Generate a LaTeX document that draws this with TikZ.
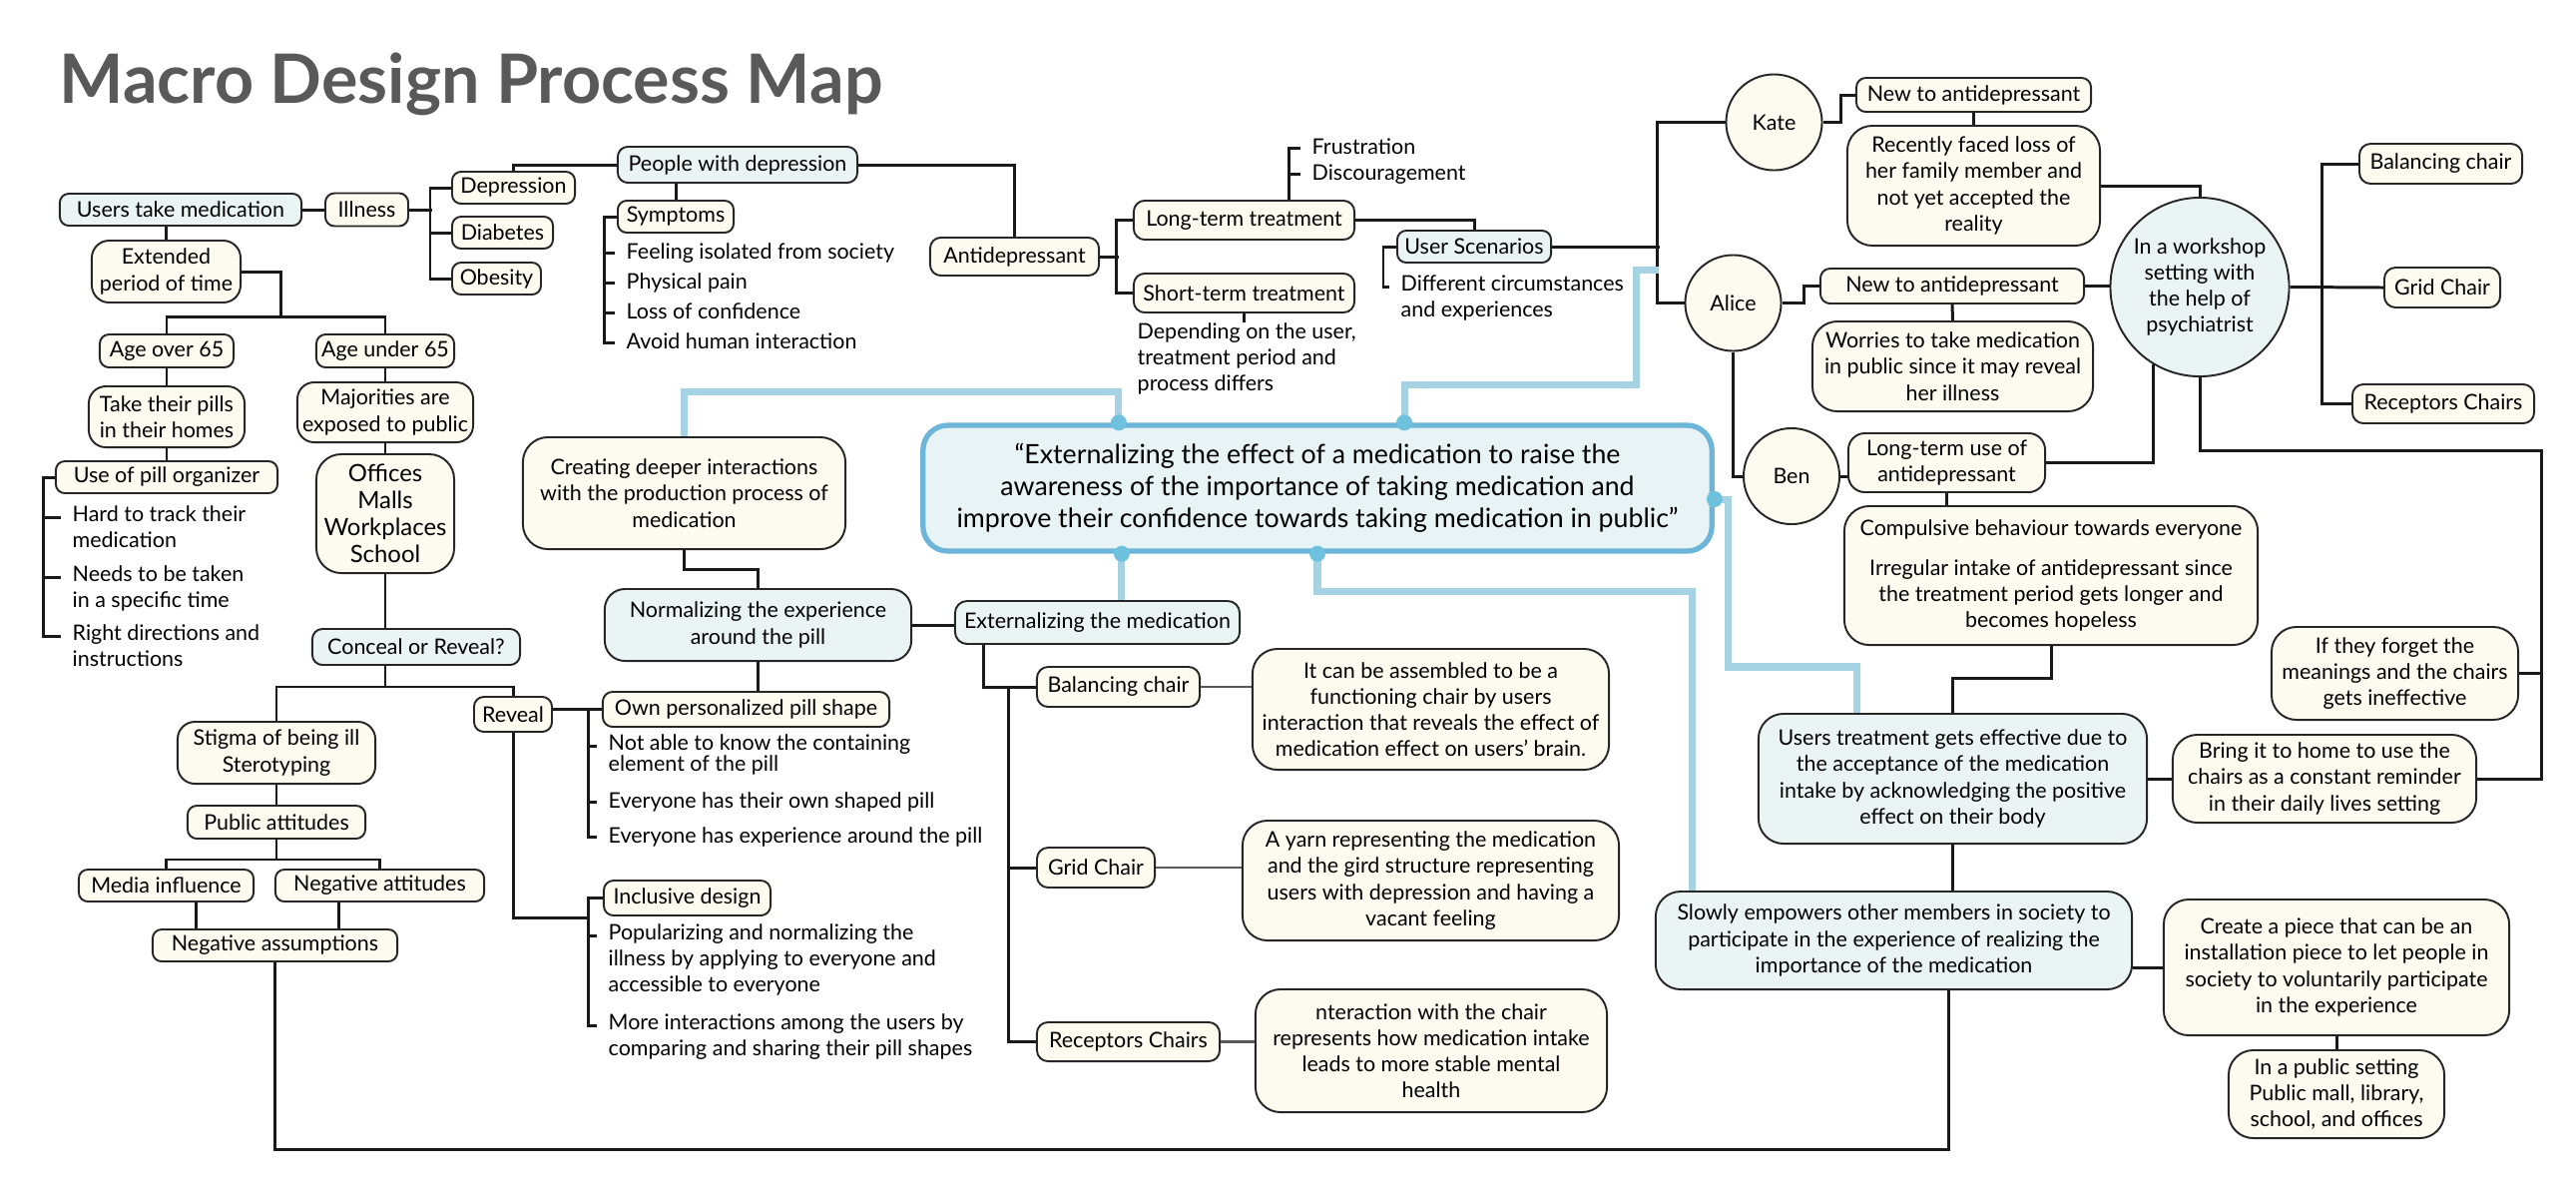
\documentclass[tikz,border=0pt]{standalone}
\usepackage{fontspec}
\setmainfont{Lato}
\definecolor{cream}{HTML}{FDFBEF}
\definecolor{paleblue}{HTML}{EAF4F4}
\definecolor{mainfill}{HTML}{E7F3F5}
\definecolor{edge}{HTML}{262626}
\definecolor{skyline}{HTML}{A5D3E3}
\definecolor{skyedge}{HTML}{6DB5D9}
\definecolor{skydot}{HTML}{6EC2DE}
\definecolor{titlegrey}{HTML}{595959}
\newcommand\mapfont{\fontsize{6.1}{7.45}\selectfont}
\begin{document}
\begin{tikzpicture}[x=0.01cm, y=-0.01cm,
box/.style={draw=edge, fill=cream, line width=0.55pt, inner sep=1pt, align=center, font=\mapfont},
bluebox/.style={box, fill=paleblue},
wh/.style 2 args={minimum width=#1cm, minimum height=#2cm, rounded corners={min(#2*2.8,2.5)*1mm}},
person/.style={circle, draw=edge, fill=cream, line width=0.55pt, minimum size=0.96cm, inner sep=0pt, font=\mapfont},
item/.style={anchor=north west, inner xsep=0.11cm, inner ysep=0pt, yshift=3.5pt, align=left, font=\mapfont, execute at begin node=\strut},
link/.style={draw=black!90, line width=0.85pt},
soft/.style={draw=black!65, line width=0.6pt},
blink/.style={draw=skyline, line width=2pt},
dot/.style={circle, fill=skydot, inner sep=0pt, minimum size=0.16cm}]
\useasboundingbox (0,0) rectangle (2581,1199);

\node[anchor=base west, text=titlegrey, font=\fontsize{19.4}{22}\selectfont\bfseries] (title) at (47,103) {Macro Design Process Map};

% users and illness
\node[bluebox, wh={2.42}{0.32}] (users) at (181,210) {Users take medication};
\node[box, wh={0.83}{0.33}] (illness) at (367.5,210) {Illness};
\node[box, wh={1.23}{0.32}] (depr) at (514.5,188) {Depression};
\node[box, wh={1.01}{0.32}] (diab) at (503.5,233) {Diabetes};
\node[box, wh={0.89}{0.32}] (obes) at (497.5,279) {Obesity};
\node[bluebox, wh={2.40}{0.36}] (people) at (739,165) {People with depression};
\node[box, wh={1.16}{0.32}] (sympt) at (677,217) {Symptoms};
\node[item] (s1) at (616,253) {Feeling isolated from society};
\node[item] (s2) at (616,283) {Physical pain};
\node[item] (s3) at (616,313) {Loss of confidence};
\node[item] (s4) at (616,343) {Avoid human interaction};

\node[box, wh={1.49}{0.62}] (extended) at (166.5,272) {Extended\\period of time};
\node[box, wh={1.34}{0.33}] (ageover) at (167,351.5) {Age over 65};
\node[box, wh={1.38}{0.33}] (ageunder) at (386,351.5) {Age under 65};
\node[box, wh={1.56}{0.61}] (pills) at (167,417.5) {Take their pills\\in their homes};
\node[box, wh={1.76}{0.60}] (majority) at (386,413) {Majorities are\\exposed to public};
\node[box, wh={2.22}{0.32}] (organizer) at (167,478) {Use of pill organizer};
\node[item] (o1) at (61,518) {Hard to track their\\medication};
\node[item] (o2) at (61,578) {Needs to be taken\\in a specific time};
\node[item] (o3) at (61,637) {Right directions and\\instructions};
\node[box, wh={1.38}{1.19}, font=\fontsize{6.8}{7.7}\selectfont] (offices) at (386,514.5) {Offices\\Malls\\Workplaces\\School};
\node[bluebox, wh={2.08}{0.36}] (conceal) at (417,648) {Conceal or Reveal?};
\node[box, wh={1.98}{0.62}] (stigma) at (277,754) {Stigma of being ill\\Sterotyping};
\node[box, wh={0.78}{0.35}] (reveal) at (514,715.5) {Reveal};
\node[box, wh={1.78}{0.33}] (public) at (277,823.5) {Public attitudes};
\node[box, wh={1.75}{0.32}] (media) at (166.5,887) {Media influence};
\node[box, wh={2.09}{0.32}] (negatt) at (380.5,887) {Negative attitudes};
\node[box, wh={2.45}{0.32}] (negass) at (275.5,947) {Negative assumptions};

% pill design
\node[box, wh={3.23}{1.12}] (creating) at (685.5,494) {Creating deeper interactions\\with the production process of\\medication};
\node[bluebox, wh={3.07}{0.72}] (normal) at (759.5,626) {Normalizing the experience\\around the pill};
\node[box, wh={2.87}{0.35}] (own) at (747.5,710.5) {Own personalized pill shape};
\node[item] (w1) at (598,747) {Not able to know the containing\\[-1.3pt]element of the pill};
\node[item] (w2) at (598,803) {Everyone has their own shaped pill};
\node[item] (w3) at (598,838) {Everyone has experience around the pill};
\node[box, wh={1.67}{0.35}] (inclusive) at (688.5,899.5) {Inclusive design};
\node[item] (i1) at (598,937) {Popularizing and normalizing the\\illness by applying to everyone and\\accessible to everyone};
\node[item] (i2) at (598,1027) {More interactions among the users by\\comparing and sharing their pill shapes};

% main statement and chairs
\node[bluebox, wh={7.90}{1.26}, draw=skyedge, line width=1.5pt, fill=mainfill, font=\fontsize{7.6}{9.1}\selectfont] (main) at (1320,489) {“Externalizing the effect of a medication to raise the\\awareness of the importance of taking medication and\\improve their confidence towards taking medication in public”};
\node[bluebox, wh={2.85}{0.43}] (extmed) at (1099.5,623.5) {Externalizing the medication};
\node[box, wh={1.63}{0.40}] (balmid) at (1120.5,688) {Balancing chair};
\node[box, wh={3.57}{1.21}] (balnote) at (1433.5,710.5) {It can be assembled to be a\\functioning chair by users\\interaction that reveals the effect of\\medication effect on users’ brain.};
\node[box, wh={1.18}{0.40}] (gridmid) at (1098,869) {Grid Chair};
\node[box, wh={3.77}{1.20}] (gridnote) at (1433.5,882) {A yarn representing the medication\\and the gird structure representing\\users with depression and having a\\vacant feeling};
\node[box, wh={1.83}{0.39}] (recmid) at (1130.5,1043.5) {Receptors Chairs};
\node[box, wh={3.52}{1.23}] (recnote) at (1434,1052.5) {nteraction with the chair\\represents how medication intake\\leads to more stable mental\\health};

% antidepressant
\node[box, wh={1.69}{0.38}] (anti) at (1016.5,257) {Antidepressant};
\node[box, wh={2.21}{0.39}] (longt) at (1246.5,220.5) {Long-term treatment};
\node[box, wh={2.21}{0.39}] (shortt) at (1246.5,293.5) {Short-term treatment};
\node[item] (frus) at (1303,148) {Frustration};
\node[item] (disc) at (1303,174) {Discouragement};
\node[item] (dep) at (1128,335) {Depending on the user,\\treatment period and\\process differs};
\node[bluebox, wh={1.54}{0.32}] (scen) at (1477,247) {User Scenarios};
\node[item] (diff) at (1392,287) {Different circumstances\\and experiences};

% user scenarios
\node[person] (kate) at (1777.5,122.5) {Kate};
\node[person] (alice) at (1736.5,303.5) {Alice};
\node[person] (ben) at (1795,477) {Ben};
\node[box, wh={2.35}{0.34}] (katenew) at (1977.5,95) {New to antidepressant};
\node[box, wh={2.53}{1.20}] (kateloss) at (1977.5,186) {Recently faced loss of\\her family member and\\not yet accepted the\\reality};
\node[box, wh={2.64}{0.35}] (alicenew) at (1956,286.5) {New to antidepressant};
\node[box, wh={2.81}{0.90}] (aliceworry) at (1956.5,367) {Worries to take medication\\in public since it may reveal\\her illness};
\node[box, wh={1.97}{0.59}] (benlong) at (1950.5,463.5) {Long-term use of\\antidepressant};
\node[box, wh={4.14}{1.39}] (bencomp) at (2055,576.5) {Compulsive behaviour towards everyone\\[4pt]Irregular intake of antidepressant since\\the treatment period gets longer and\\becomes hopeless};
\node[person, fill=paleblue, minimum size=1.79cm, align=center] (workshop) at (2204,287.5) {In a workshop\\setting with\\the help of\\psychiatrist};
\node[box, wh={1.63}{0.40}] (balright) at (2445.5,164) {Balancing chair};
\node[box, wh={1.16}{0.40}] (gridright) at (2447,288) {Grid Chair};
\node[box, wh={1.82}{0.39}] (recright) at (2448,404.5) {Receptors Chairs};
\node[bluebox, wh={3.89}{1.30}] (treat) at (1956.5,780) {Users treatment gets effective due to\\the acceptance of the medication\\intake by acknowledging the positive\\effect on their body};
\node[box, wh={2.47}{0.93}] (forget) at (2399.5,674.5) {If they forget the\\meanings and the chairs\\gets ineffective};
\node[box, wh={3.04}{0.88}] (bring) at (2329,780) {Bring it to home to use the\\chairs as a constant reminder\\in their daily lives setting};
\node[bluebox, wh={4.77}{0.98}] (slowly) at (1897.5,942) {Slowly empowers other members in society to\\participate in the experience of realizing the\\importance of the medication};
\node[box, wh={3.46}{1.36}] (create) at (2341,969) {Create a piece that can be an\\installation piece to let people in\\society to voluntarily participate\\in the experience};
\node[box, wh={2.16}{0.88}] (publicset) at (2341,1096) {In a public setting\\Public mall, library,\\school, and offices};

% left links
\draw[link] (users.east) -- (illness.west);
\draw[link] (illness.east) -- ++(23,0);
\draw[link] (depr.west) -- ++(-21,0) |- (obes.west);
\draw[link] (diab.west) -- ++(-21,0);
\draw[link] (depr.north) |- (people.west);
\draw[link] (people.east) -| (anti.north);
\draw[link] (sympt.north) -- (sympt.north |- people.south);
\draw[link] (sympt.west) -- ++(-13,0) |- ([yshift=-3.5pt]s4.north west);
\foreach \s in {s1,s2,s3} \draw[link] ([yshift=-3.5pt]\s.north west) -- ++(-10,0);
\draw[link] (extended.north) -- (extended.north |- users.south);
\draw[link] (extended.east) -- ++(39,0) |- ([yshift=0.17cm]ageover.north) -- (ageover.north);
\draw[link] ([yshift=0.17cm]ageover.north) -| (ageunder.north);
\draw[link] (ageover.south) -- (pills.north);
\draw[link] (pills.south) -- (organizer.north);
\draw[link] (organizer.west) -- ++(-11,0) |- ([yshift=-3.5pt]o3.north west);
\foreach \s in {o1,o2} \draw[link] ([yshift=-3.5pt]\s.north west) -- ++(-16,0);
\draw[link] (ageunder.south) -- (majority.north);
\draw[link] (majority.south) -- (offices.north);
\draw[link] (offices.south) -- (offices.south |- conceal.north);
\draw[link] (offices.south |- conceal.south) -- ++(0,21) -| (stigma.north);
\draw[link] (offices.south |- conceal.south) -- ++(0,21) -| (reveal.north);
\draw[link] (stigma.south) -- (public.north);
\draw[link] (public.south) -- ++(0,20) -| (media.north);
\draw[link] (public.south) -- ++(0,20) -| (negatt.north);
\draw[link] ([xshift=0.295cm]media.south) -- ([xshift=0.295cm]media.south |- negass.north);
\draw[link] ([xshift=-0.405cm]negatt.south) -- ([xshift=-0.405cm]negatt.south |- negass.north);
\draw[link] (own.west) -- (own.west -| reveal.east);
\draw[link] (own.west) -- ++(-13,0) |- ([yshift=-3.5pt]w3.north west);
\foreach \s in {w1,w2} \draw[link] ([yshift=-3.5pt]\s.north west) -- ++(-7,0);
\draw[link] (reveal.south) |- ([xshift=-0.14cm,yshift=-0.195cm]inclusive.west);
\draw[link] (inclusive.west) -- ++(-14,0) |- ([yshift=-3.5pt]i2.north west);
\draw[link] ([yshift=-3.5pt]i1.north west) -- ++(-7,0);
\draw[link] (creating.south) -- ++(0,19) -| (normal.north);
\draw[link] (normal.south) -- (normal.south |- own.north);
\draw[link] (normal.east) -- (normal.east -| extmed.west);

% chairs
\draw[link] ([xshift=-1.135cm]extmed.south) |- (balmid.west);
\draw[link] ([xshift=-0.27cm]balmid.west) |- (recmid.west);
\draw[link] (gridmid.west) -- ++(-27,0);
\draw[soft] (balmid.east) -- (balmid.east -| balnote.west);
\draw[soft] (gridmid.east) -- (gridmid.east -| gridnote.west);
\draw[soft] (recmid.east) -- (recmid.east -| recnote.west);

% antidepressant links
\draw[link] (anti.east) -- ++(19,0);
\draw[link] (longt.west) -- ++(-16,0) |- (shortt.west);
\draw[link] ([xshift=0.445cm]longt.north) |- ([yshift=-3.5pt]frus.north west);
\draw[link] ([yshift=-3.5pt]disc.north west) -- ++(-12,0);
\draw[link] (shortt.south) -- (shortt.south |- dep.north);
\draw[link] (longt.east) -| (scen.north);
\draw[link] (scen.west) -- ++(-13,0) |- ([yshift=-3.5pt]diff.north west);
\draw[link] (scen.east) -- ++(108,0);

% scenario links
\draw[link] (kate.west) -- ++(-68,0) |- (alice.west);
\draw[link] (kate.east) -- ++(18,0) |- (katenew.west);
\draw[link] (katenew.south) -- (kateloss.north);
\draw[link] (kateloss.east) -| (workshop.north);
\draw[link] (alice.east) -- ++(22,0) |- (alicenew.west);
\draw[link] (alicenew.east) -- (alicenew.east -| workshop.west);
\draw[link] (alicenew.south) -- (aliceworry.north);
\draw[link] (alice.south) |- (ben.west);
\draw[link] (ben.east) -- (ben.east -| benlong.west);
\draw[link] (benlong.east) -| (workshop.-121);
\draw[link] (benlong.south) -- (benlong.south |- bencomp.north);
\draw[link] (workshop.east) -- (gridright.west);
\draw[link] (balright.west) -- ++(-37,0) |- (recright.west);
\draw[link] (workshop.south) -- ++(0,73) -| ([xshift=0.64cm]bring.east) -- (bring.east);
\draw[link] (forget.east) -- ++(22,0);
\draw[link] (bencomp.south) -- ++(0,32) -| (treat.north);
\draw[link] (treat.east) -- (bring.west);
\draw[link] (treat.south) -- (treat.south |- slowly.north);
\draw[link] (create.west) -- (create.west -| slowly.east);
\draw[link] (create.south) -- (publicset.north);
\draw[link] ([xshift=0.545cm]slowly.south) -- ++(0,159) -| (negass.south);

% blue links from the main statement
\draw[blink] ([xshift=-1.99cm]main.north) -- ++(0,-31) -| (creating.north);
\draw[blink] ([xshift=0.87cm]main.north) -- ++(0,-38) -| ++(232,-115) -- ++(23,0);
\draw[blink] ([yshift=-0.11cm]main.east) -- ++(14,0) |- ([xshift=-0.955cm,yshift=0.46cm]treat.north) -- ([xshift=-0.955cm]treat.north);
\draw[blink] ([xshift=-1.96cm]main.south) -- ([xshift=-1.96cm]main.south |- extmed.north);
\draw[blink] (main.south) -- ++(0,38) -| ([xshift=-2.015cm]slowly.north);
\node[dot] (d1) at ([xshift=-1.99cm]main.north) {};
\node[dot] (d2) at ([xshift=0.87cm]main.north) {};
\node[dot] (d3) at ([yshift=-0.11cm]main.east) {};
\node[dot] (d4) at ([xshift=-1.96cm]main.south) {};
\node[dot] (d5) at (main.south) {};
\end{tikzpicture}
\end{document}
